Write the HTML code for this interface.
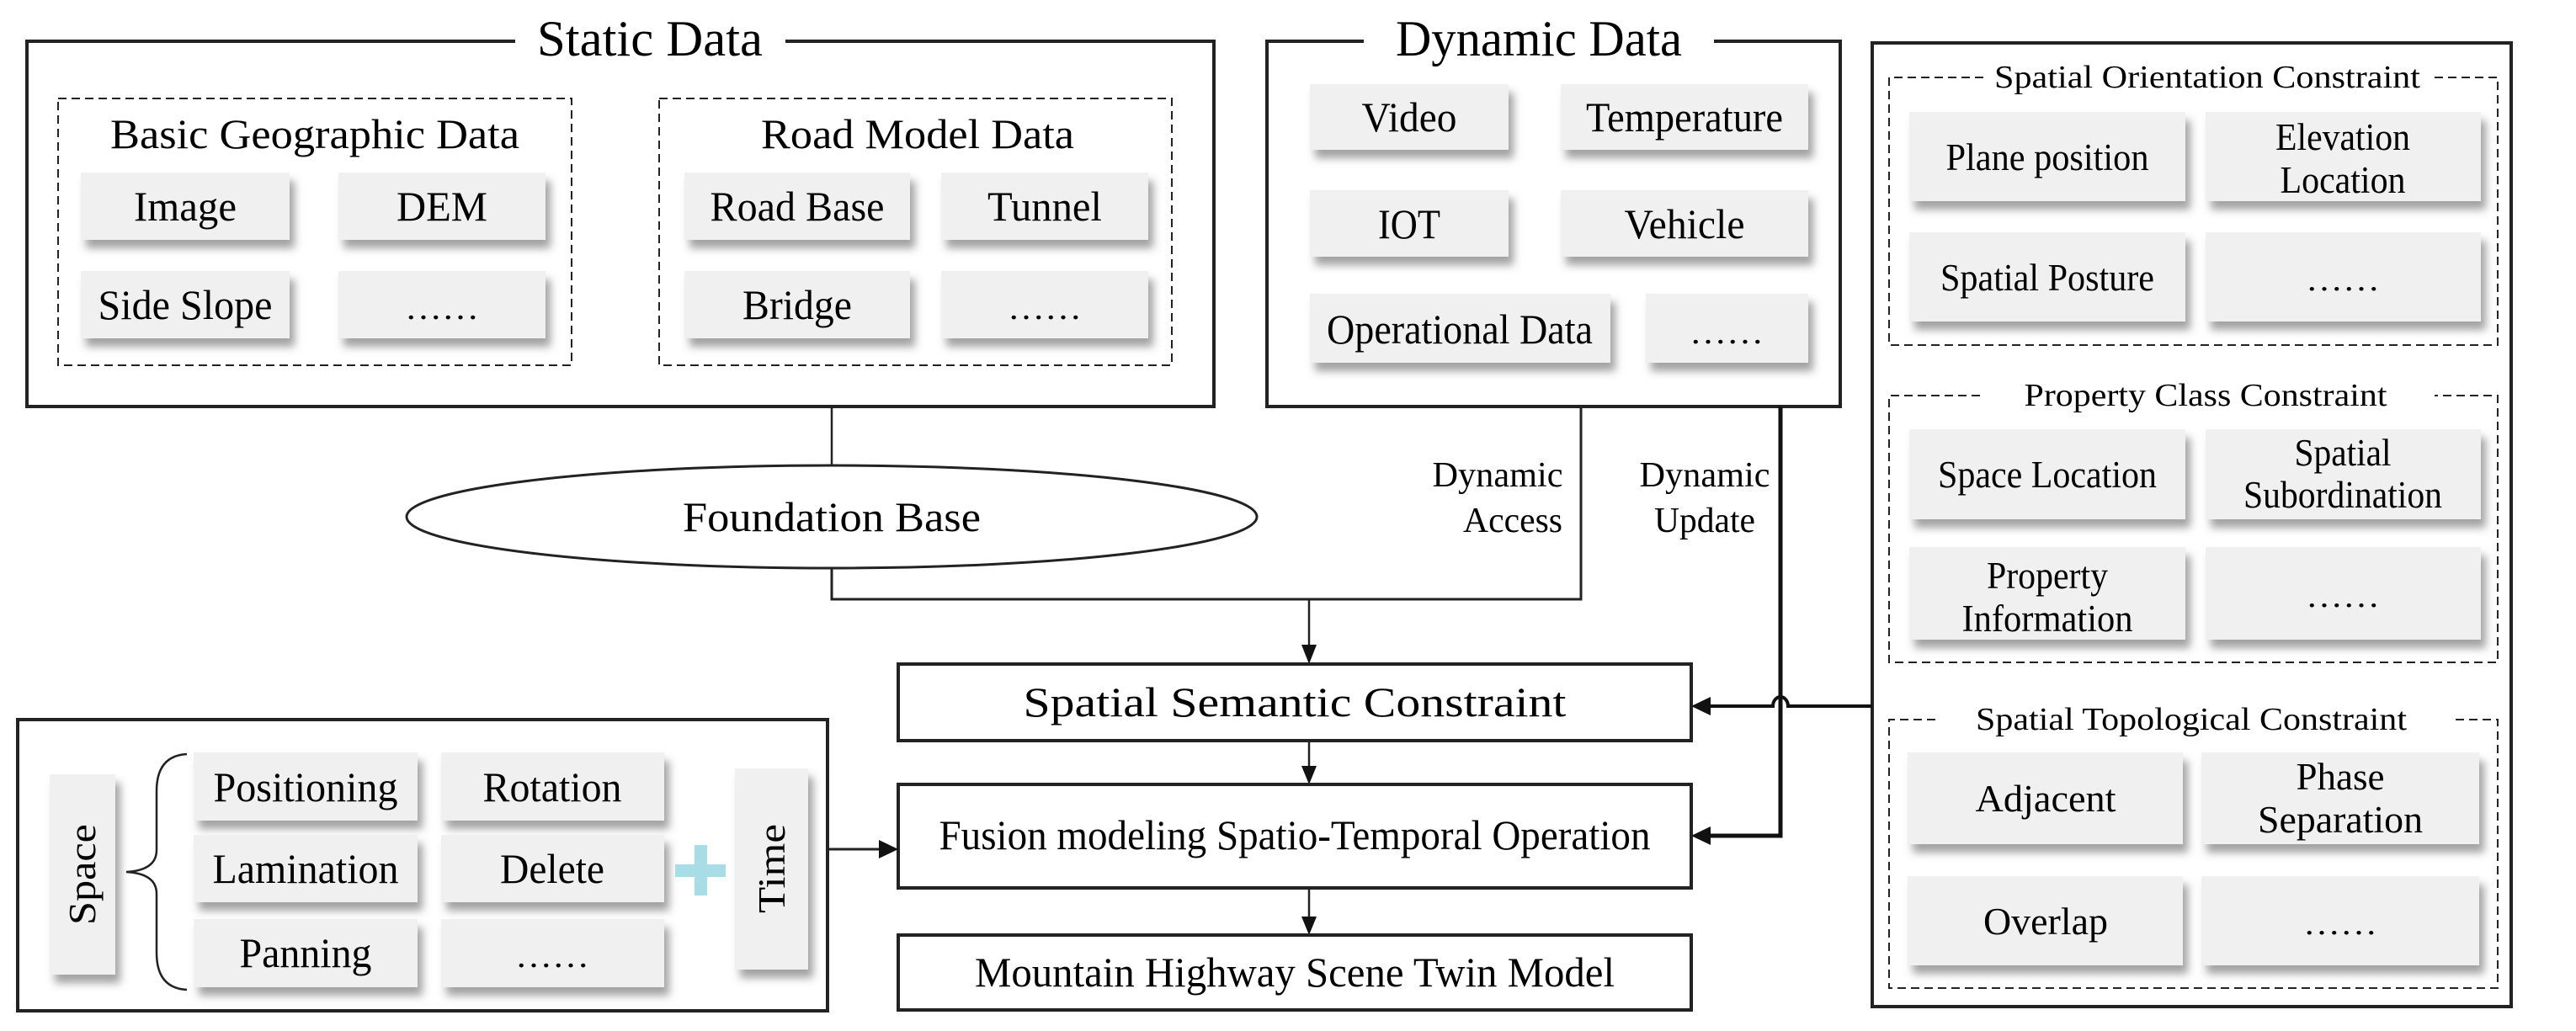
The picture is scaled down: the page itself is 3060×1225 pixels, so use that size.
<!DOCTYPE html>
<html><head><meta charset="utf-8"><style>
html,body{margin:0;padding:0;background:#fff;}
svg{display:block;}
text{font-family:"Liberation Serif","DejaVu Serif",serif;fill:#000;}
</style></head><body>
<svg width="3060" height="1225" viewBox="0 0 3060 1225" xmlns="http://www.w3.org/2000/svg" font-family="Liberation Serif, DejaVu Serif, serif">
<defs>
<filter id="sh" x="-20%" y="-20%" width="150%" height="160%">
<feDropShadow dx="6" dy="10" stdDeviation="5" flood-color="#555" flood-opacity="0.55"/>
</filter>
</defs>

<!-- Static Data -->
<polyline points="612,49 32,49 32,483 1442,483 1442,49 933,49" fill="none" stroke="#222" stroke-width="4"/>
<text x="772" y="66" font-size="60" text-anchor="middle" textLength="268" lengthAdjust="spacingAndGlyphs">Static Data</text>
<rect x="69" y="117" width="610" height="317" fill="none" stroke="#222" stroke-width="2" stroke-dasharray="10,6"/>
<rect x="783" y="117" width="609" height="317" fill="none" stroke="#222" stroke-width="2" stroke-dasharray="10,6"/>
<text x="374" y="176" font-size="50" text-anchor="middle" textLength="486" lengthAdjust="spacingAndGlyphs">Basic Geographic Data</text>
<text x="1090" y="176" font-size="50" text-anchor="middle" textLength="372" lengthAdjust="spacingAndGlyphs">Road Model Data</text>

<g filter="url(#sh)" fill="#f0f0f0">
<rect x="96" y="205" width="248" height="80"/><rect x="402" y="205" width="246" height="80"/>
<rect x="96" y="322" width="248" height="80"/><rect x="402" y="322" width="246" height="80"/>
<rect x="813" y="205" width="268" height="80"/><rect x="1118" y="205" width="246" height="80"/>
<rect x="813" y="322" width="268" height="80"/><rect x="1118" y="322" width="246" height="80"/>
<rect x="1556" y="100" width="236" height="78"/><rect x="1854" y="100" width="294" height="78"/>
<rect x="1556" y="226" width="236" height="79"/><rect x="1854" y="226" width="294" height="79"/>
<rect x="1556" y="349" width="357" height="82"/><rect x="1955" y="349" width="193" height="82"/>
<rect x="2268" y="133" width="328" height="106"/><rect x="2620" y="133" width="327" height="106"/>
<rect x="2268" y="276" width="328" height="106"/><rect x="2620" y="276" width="327" height="106"/>
<rect x="2268" y="510" width="328" height="107"/><rect x="2620" y="510" width="327" height="107"/>
<rect x="2268" y="650" width="328" height="110"/><rect x="2620" y="650" width="327" height="110"/>
<rect x="2266" y="894" width="327" height="109"/><rect x="2615" y="894" width="330" height="109"/>
<rect x="2266" y="1041" width="327" height="106"/><rect x="2615" y="1041" width="330" height="106"/>
</g>

<g font-size="50" text-anchor="middle" lengthAdjust="spacingAndGlyphs">
<text x="220" y="262" textLength="122" lengthAdjust="spacingAndGlyphs">Image</text>
<text x="525" y="262" textLength="108" lengthAdjust="spacingAndGlyphs">DEM</text>
<text x="220" y="379" textLength="207" lengthAdjust="spacingAndGlyphs">Side Slope</text>
<text x="525" y="379" font-size="40" textLength="88" lengthAdjust="spacingAndGlyphs">……</text>
<text x="947" y="262" textLength="207" lengthAdjust="spacingAndGlyphs">Road Base</text>
<text x="1241" y="262" textLength="136" lengthAdjust="spacingAndGlyphs">Tunnel</text>
<text x="947" y="379" textLength="130" lengthAdjust="spacingAndGlyphs">Bridge</text>
<text x="1241" y="379" font-size="40" textLength="88" lengthAdjust="spacingAndGlyphs">……</text>
<text x="1674" y="156" textLength="113" lengthAdjust="spacingAndGlyphs">Video</text>
<text x="2001" y="156" textLength="234" lengthAdjust="spacingAndGlyphs">Temperature</text>
<text x="1674" y="283" textLength="74" lengthAdjust="spacingAndGlyphs">IOT</text>
<text x="2001" y="283" textLength="143" lengthAdjust="spacingAndGlyphs">Vehicle</text>
<text x="1734" y="408" textLength="316" lengthAdjust="spacingAndGlyphs">Operational Data</text>
<text x="2051" y="408" font-size="40" textLength="88" lengthAdjust="spacingAndGlyphs">……</text>
</g>

<!-- Dynamic Data -->
<polyline points="1620,49 1505,49 1505,483 2186,483 2186,49 2036,49" fill="none" stroke="#222" stroke-width="4"/>
<text x="1828" y="66" font-size="60" text-anchor="middle" textLength="340" lengthAdjust="spacingAndGlyphs">Dynamic Data</text>

<!-- Right panel -->
<rect x="2224" y="51" width="759" height="1145" fill="none" stroke="#222" stroke-width="4"/>
<polyline points="2356,92 2244,92 2244,410 2967,410 2967,92 2888,92" fill="none" stroke="#222" stroke-width="2" stroke-dasharray="10,6"/>
<text x="2622" y="104" font-size="38" text-anchor="middle" textLength="506" lengthAdjust="spacingAndGlyphs">Spatial Orientation Constraint</text>
<polyline points="2352,470 2244,470 2244,787 2967,787 2967,470 2892,470" fill="none" stroke="#222" stroke-width="2" stroke-dasharray="10,6"/>
<text x="2620" y="482" font-size="38" text-anchor="middle" textLength="431" lengthAdjust="spacingAndGlyphs">Property Class Constraint</text>
<polyline points="2299,855 2244,855 2244,1174 2967,1174 2967,855 2916,855" fill="none" stroke="#222" stroke-width="2" stroke-dasharray="10,6"/>
<text x="2603" y="867" font-size="38" text-anchor="middle" textLength="512" lengthAdjust="spacingAndGlyphs">Spatial Topological Constraint</text>

<g font-size="45" text-anchor="middle">
<text x="2432" y="202" textLength="241" lengthAdjust="spacingAndGlyphs">Plane position</text>
<text x="2783" y="178" textLength="160" lengthAdjust="spacingAndGlyphs">Elevation</text>
<text x="2783" y="229" textLength="149" lengthAdjust="spacingAndGlyphs">Location</text>
<text x="2432" y="345" textLength="254" lengthAdjust="spacingAndGlyphs">Spatial Posture</text>
<text x="2783" y="345" font-size="38" textLength="88" lengthAdjust="spacingAndGlyphs">……</text>
<text x="2432" y="579" textLength="260" lengthAdjust="spacingAndGlyphs">Space Location</text>
<text x="2783" y="553" textLength="115" lengthAdjust="spacingAndGlyphs">Spatial</text>
<text x="2783" y="603" textLength="236" lengthAdjust="spacingAndGlyphs">Subordination</text>
<text x="2432" y="699" textLength="144" lengthAdjust="spacingAndGlyphs">Property</text>
<text x="2432" y="750" textLength="203" lengthAdjust="spacingAndGlyphs">Information</text>
<text x="2783" y="721" font-size="38" textLength="88" lengthAdjust="spacingAndGlyphs">……</text>
<text x="2430" y="964" textLength="167" lengthAdjust="spacingAndGlyphs">Adjacent</text>
<text x="2780" y="938" textLength="105" lengthAdjust="spacingAndGlyphs">Phase</text>
<text x="2780" y="989" textLength="196" lengthAdjust="spacingAndGlyphs">Separation</text>
<text x="2430" y="1110" textLength="148" lengthAdjust="spacingAndGlyphs">Overlap</text>
<text x="2780" y="1110" font-size="38" textLength="88" lengthAdjust="spacingAndGlyphs">……</text>
</g>

<!-- Foundation -->
<line x1="988" y1="483" x2="988" y2="553" stroke="#222" stroke-width="2.5"/>
<ellipse cx="988" cy="614" rx="505" ry="61" fill="#fff" stroke="#222" stroke-width="3"/>
<text x="988" y="631" font-size="50" text-anchor="middle" textLength="354" lengthAdjust="spacingAndGlyphs">Foundation Base</text>
<polyline points="988,675 988,712 1878,712 1878,483" fill="none" stroke="#222" stroke-width="3"/>

<text x="1779" y="578" font-size="42" text-anchor="middle" textLength="155" lengthAdjust="spacingAndGlyphs">Dynamic</text>
<text x="1797" y="632" font-size="42" text-anchor="middle" textLength="118" lengthAdjust="spacingAndGlyphs">Access</text>
<text x="2025" y="578" font-size="42" text-anchor="middle" textLength="155" lengthAdjust="spacingAndGlyphs">Dynamic</text>
<text x="2025" y="632" font-size="42" text-anchor="middle" textLength="120" lengthAdjust="spacingAndGlyphs">Update</text>

<!-- arrow to semantic -->
<line x1="1555" y1="712" x2="1555" y2="770" stroke="#222" stroke-width="2.5"/>
<polygon points="1546,766 1564,766 1555,789" fill="#111"/>

<!-- center boxes -->
<rect x="1067" y="789" width="942" height="91" fill="#fff" stroke="#222" stroke-width="4"/>
<text x="1538" y="851" font-size="50" text-anchor="middle" textLength="645" lengthAdjust="spacingAndGlyphs">Spatial Semantic Constraint</text>
<line x1="1555" y1="880" x2="1555" y2="914" stroke="#222" stroke-width="2.5"/>
<polygon points="1546,910 1564,910 1555,932" fill="#111"/>
<rect x="1067" y="932" width="942" height="123" fill="#fff" stroke="#222" stroke-width="4"/>
<text x="1538" y="1009" font-size="50" text-anchor="middle" textLength="845" lengthAdjust="spacingAndGlyphs">Fusion modeling Spatio-Temporal Operation</text>
<line x1="1555" y1="1055" x2="1555" y2="1093" stroke="#222" stroke-width="2.5"/>
<polygon points="1546,1089 1564,1089 1555,1111" fill="#111"/>
<rect x="1067" y="1111" width="942" height="89" fill="#fff" stroke="#222" stroke-width="4"/>
<text x="1538" y="1172" font-size="50" text-anchor="middle" textLength="760" lengthAdjust="spacingAndGlyphs">Mountain Highway Scene Twin Model</text>

<!-- dynamic update line -->
<polyline points="2115,483 2115,993 2030,993" fill="none" stroke="#111" stroke-width="5"/>
<polygon points="2032,982 2032,1004 2009,993" fill="#111"/>

<!-- right panel to semantic with hop -->
<path d="M2224,839 L2124,839 A9,11 0 0 0 2106,839 L2030,839" fill="none" stroke="#111" stroke-width="4"/>
<polygon points="2032,828 2032,850 2009,839" fill="#111"/>

<!-- left bottom box -->
<rect x="21" y="855" width="962" height="346" fill="#fff" stroke="#222" stroke-width="4"/>
<g filter="url(#sh)" fill="#f0f0f0">
<rect x="230" y="894" width="266" height="81"/><rect x="524" y="894" width="265" height="81"/>
<rect x="230" y="992" width="266" height="80"/><rect x="524" y="992" width="265" height="80"/>
<rect x="230" y="1092" width="266" height="81"/><rect x="524" y="1092" width="265" height="81"/>
<rect x="59" y="920" width="78" height="238"/>
<rect x="873" y="913" width="87" height="239"/>
</g>
<g font-size="50" text-anchor="middle">
<text x="363" y="952" textLength="219" lengthAdjust="spacingAndGlyphs">Positioning</text>
<text x="656" y="952" textLength="165" lengthAdjust="spacingAndGlyphs">Rotation</text>
<text x="363" y="1049" textLength="221" lengthAdjust="spacingAndGlyphs">Lamination</text>
<text x="656" y="1049" textLength="124" lengthAdjust="spacingAndGlyphs">Delete</text>
<text x="363" y="1149" textLength="157" lengthAdjust="spacingAndGlyphs">Panning</text>
<text x="656" y="1149" font-size="40" textLength="88" lengthAdjust="spacingAndGlyphs">……</text>
</g>
<text transform="translate(113,1039) rotate(-90)" font-size="46" text-anchor="middle" textLength="120" lengthAdjust="spacingAndGlyphs">Space</text>
<text transform="translate(932,1032) rotate(-90)" font-size="46" text-anchor="middle" textLength="106" lengthAdjust="spacingAndGlyphs">Time</text>
<path d="M222,896 Q186,898 186,940 L186,1010 Q186,1034 150,1036 Q186,1038 186,1062 L186,1132 Q186,1174 222,1176" fill="none" stroke="#222" stroke-width="2.5"/>
<rect x="825" y="1004" width="15" height="60" fill="#a8dde8"/>
<rect x="802" y="1027" width="60" height="15" fill="#a8dde8"/>
<line x1="983" y1="1009" x2="1046" y2="1009" stroke="#222" stroke-width="3"/>
<polygon points="1044,998 1044,1020 1067,1009" fill="#111"/>
</svg>
</body></html>
